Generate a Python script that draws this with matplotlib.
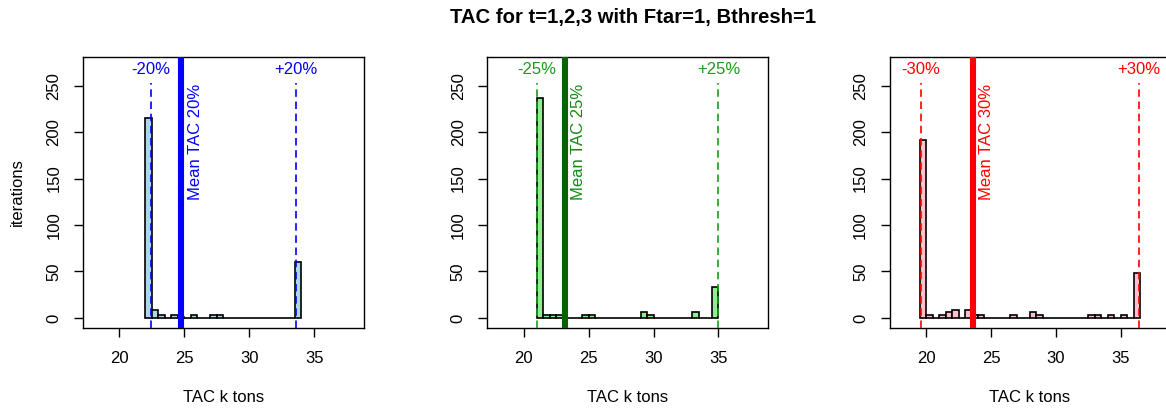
import numpy as np
import matplotlib
matplotlib.use("Agg")
import matplotlib.pyplot as plt
from matplotlib.transforms import offset_copy

plt.rcParams['font.family'] = ['Liberation Sans', 'DejaVu Sans']

# Histogram counts per 0.5 k-ton bin, starting at each panel's first bin edge
bin_width = 0.5
start_20 = 22.0
counts_20 = [215, 9, 3, 0, 3, 1, 0, 3, 0, 0, 3, 3, 0, 0, 0, 0, 0, 0, 0, 0, 0, 0, 0, 60]
start_25 = 21.0
counts_25 = [237, 3, 3, 3, 0, 0, 0, 3, 3, 0, 0, 0, 0, 0, 0, 0, 6, 3, 0, 0, 0, 0, 0, 0,
             6, 0, 0, 33]
start_30 = 19.5
counts_30 = [192, 3, 0, 3, 6, 9, 0, 9, 3, 3, 0, 0, 0, 0, 3, 0, 0, 6, 3, 0, 0, 0, 0, 0,
             0, 0, 3, 3, 0, 3, 0, 3, 0, 48]

# Constraint limits (-x% / +x%) and the mean TAC for each scenario
pct_labels = ["20%", "25%", "30%"]
lower_limits = [22.4, 21.0, 19.6]
upper_limits = [33.6, 35.0, 36.4]
mean_tac = [24.78, 23.18, 23.58]

bar_colors = ["#ADD8E6", "#90EE90", "#FFC0CB"]
line_colors = ["#0000FF", "#1E9A1E", "#FF0000"]
mean_colors = ["#0000FF", "#006400", "#FF0000"]
text_colors = ["#0000FF", "#1E9A1E", "#FF0000"]
mean_text_colors = ["#0000FF", "#138A13", "#FF0000"]

starts = [start_20, start_25, start_30]
counts = [counts_20, counts_25, counts_30]

W, H = 1166, 412
fig = plt.figure(figsize=(W / 100, H / 100), dpi=100)

lefts = [83, 487.3, 889.7]
ax_w = 280.5
top, bottom = 57, 328

fs = 12
for i in range(3):
    ax = fig.add_axes([lefts[i] / W, (H - bottom) / H, ax_w / W, (bottom - top) / H])
    c = np.asarray(counts[i], dtype=float)
    edges = starts[i] + bin_width * np.arange(len(c))
    ax.bar(edges, c, width=bin_width, align='edge', color=bar_colors[i],
           edgecolor='black', linewidth=1.2, zorder=2)

    ax.set_xlim(17.2, 38.8)
    ax.set_ylim(-10.8, 280.8)

    # +/- limit markers
    for xv, sign in ((lower_limits[i], "-"), (upper_limits[i], "+")):
        ax.plot([xv, xv], [-10.8, 253], color=line_colors[i], lw=1.2,
                linestyle=(0, (4.5, 2.8)), zorder=3)
        ax.text(xv, 267, sign + pct_labels[i], color=text_colors[i], fontsize=fs,
                ha='center', va='center', zorder=4)

    # mean TAC line and label
    ax.axvline(mean_tac[i], color=mean_colors[i], lw=4.4, zorder=4)
    tr = offset_copy(ax.transData, fig=fig, x=4.5, y=0, units='points')
    ax.text(mean_tac[i], 252, "Mean TAC " + pct_labels[i], transform=tr,
            rotation=90, ha='left', va='top', color=mean_text_colors[i],
            fontsize=fs, zorder=5)

    ax.set_xticks([20, 25, 30, 35])
    ax.set_xticklabels(["20", "25", "30", "35"])
    ax.set_yticks([0, 50, 100, 150, 200, 250])
    ax.set_yticklabels(["0", "50", "100", "150", "200", "250"], rotation=90, va='center')
    ax.tick_params(axis='both', direction='out', length=6.5, width=1.0, labelsize=fs,
                   colors='black')
    ax.tick_params(axis='x', pad=10)
    ax.tick_params(axis='y', pad=9)
    for s in ax.spines.values():
        s.set_linewidth(1.0)
        s.set_color('black')

    cx = (lefts[i] + ax_w / 2) / W
    fig.text(cx, 1 - 398 / H, "TAC k tons", ha='center', va='center', fontsize=fs)

fig.text(17 / W, 1 - 192.5 / H, "iterations", rotation=90, ha='center', va='center',
         fontsize=fs)
fig.text(633 / W, 1 - 17 / H, "TAC for t=1,2,3 with Ftar=1, Bthresh=1",
         ha='center', va='center', fontsize=14.6, fontweight='bold')

fig.savefig("out.png", dpi=100)
